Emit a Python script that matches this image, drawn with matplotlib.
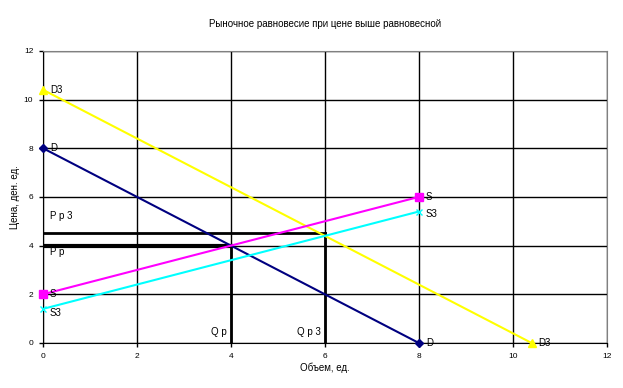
import matplotlib
matplotlib.use("Agg")
import matplotlib.pyplot as plt

plt.rcParams['font.family'] = ['Liberation Sans', 'DejaVu Sans']

# Data
d_x, d_y = [0, 8], [8, 0]
s_x, s_y = [0, 8], [2, 6]
d3_x, d3_y = [0, 10.4], [10.4, 0]
s3_x, s3_y = [0, 8], [1.4, 5.4]
qp, pp = 4, 4
qp3, pp3 = 6, 4.5

fig = plt.figure(figsize=(6.23, 3.88), dpi=100)
ax = fig.add_axes([0.069, 0.116, 0.905, 0.753])

ax.set_xlim(0, 12)
ax.set_ylim(0, 12)
ax.set_xticks(range(0, 13, 2))
ax.set_yticks(range(0, 13, 2))
ax.grid(True, color='black', linewidth=1)
ax.set_axisbelow(True)
for side in ['top', 'right']:
    ax.spines[side].set_color('gray')
for side in ['left', 'bottom']:
    ax.spines[side].set_color('black')
ax.tick_params(labelsize=6, length=3, width=1, pad=4)

# equilibrium guide lines
ax.plot([0, qp], [pp, pp], color='black', lw=3, zorder=3)
ax.plot([qp, qp], [0, pp], color='black', lw=2, zorder=3)
ax.plot([0, qp3], [pp3, pp3], color='black', lw=2, zorder=3)
ax.plot([qp3, qp3], [0, pp3], color='black', lw=2, zorder=3)

ax.plot(d3_x, d3_y, color='#ffff00', lw=1.5, marker='^', ms=6, zorder=4, clip_on=False)
ax.plot(d_x, d_y, color='#000080', lw=1.5, marker='D', ms=4.5, zorder=4, clip_on=False)
ax.plot(s3_x, s3_y, color='#00ffff', lw=1.5, marker='x', ms=5, zorder=4, clip_on=False)
ax.plot(s_x, s_y, color='#ff00ff', lw=1.5, marker='s', ms=6, zorder=4, clip_on=False)

fs = 7
ax.text(0.15, d3_y[0], 'D3', fontsize=fs, va='center', zorder=5)
ax.text(0.15, d_y[0], 'D', fontsize=fs, va='center', zorder=5)
ax.text(0.15, s_y[0], 'S', fontsize=fs, va='center', zorder=5)
ax.text(0.15, s3_y[0] - 0.15, 'S3', fontsize=fs, va='center', zorder=5)
ax.text(8.15, s_y[1], 'S', fontsize=fs, va='center', zorder=5)
ax.text(8.15, s3_y[1] - 0.1, 'S3', fontsize=fs, va='center', zorder=5)
ax.text(8.15, d_y[1], 'D', fontsize=fs, va='center', zorder=5)
ax.text(10.55, d3_y[1], 'D3', fontsize=fs, va='center', zorder=5)
ax.text(0.15, 5.2, 'P р 3', fontsize=fs, va='center', zorder=5)
ax.text(0.15, 3.75, 'P р', fontsize=fs, va='center', zorder=5)
ax.text(3.92, 0.45, 'Q р', fontsize=fs, va='center', ha='right', zorder=5)
ax.text(5.92, 0.45, 'Q р 3', fontsize=fs, va='center', ha='right', zorder=5)

ax.set_title('Рыночное равновесие при цене выше равновесной', fontsize=7, pad=17)
ax.set_xlabel('Объем, ед.', fontsize=7, labelpad=2)
ax.set_ylabel('Цена, ден. ед.', fontsize=7, labelpad=3)

fig.savefig('out.png', dpi=100)
